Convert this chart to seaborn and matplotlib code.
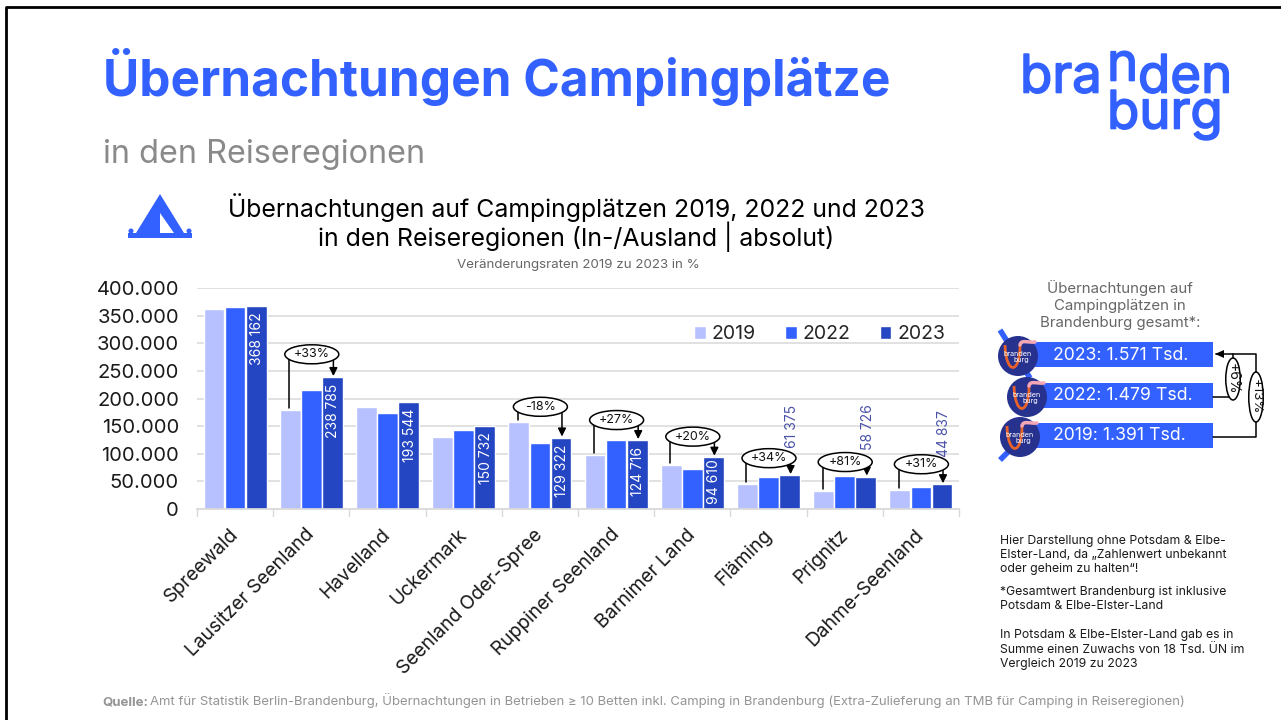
import matplotlib
matplotlib.use('Agg')
import matplotlib.pyplot as plt
import matplotlib.patheffects as pe
import matplotlib.transforms as mtrans
import pandas as pd
import seaborn as sns
from matplotlib.patches import Circle, Ellipse, PathPatch, Polygon, Rectangle
from matplotlib.path import Path

regionen = ['Spreewald', 'Lausitzer Seenland', 'Havelland', 'Uckermark', 'Seenland Oder-Spree',
            'Ruppiner Seenland', 'Barnimer Land', 'Fläming', 'Prignitz', 'Dahme-Seenland']
werte_2019 = [362000, 179000, 184000, 130500, 157500, 98000, 79000, 45800, 32500, 34200]
werte_2022 = [365000, 215500, 174500, 143000, 119000, 124500, 72000, 58500, 60000, 39500]
werte_2023 = [368162, 238785, 193544, 150732, 129322, 124716, 94610, 61375, 58726, 44837]
jahre = ['2019', '2022', '2023']
farben = ['#B8C1FF', '#3361FF', '#2546C2']
y_ticks = [0, 50000, 100000, 150000, 200000, 250000, 300000, 350000, 400000]

# Veraenderung 2019 zu 2023, je Region: (Index, Text, Hoehe der Ellipse im Diagramm)
raten = [(1, '+33%', 280000), (4, '-18%', 185000), (5, '+27%', 161000), (6, '+20%', 131000),
         (7, '+34%', 92000), (8, '+81%', 85000), (9, '+31%', 81000)]
gesamt = ['2023: 1.571 Tsd.', '2022: 1.479 Tsd.', '2019: 1.391 Tsd.']

BLAU = '#3361FF'
GRAU = '#8a8a8a'
FONT = ['Inter', 'DejaVu Sans']

sns.set_theme(style='white')
plt.rcParams['font.family'] = FONT

df = pd.DataFrame({'Region': regionen * 3,
                   'Jahr': ['2019'] * 10 + ['2022'] * 10 + ['2023'] * 10,
                   'Wert': werte_2019 + werte_2022 + werte_2023})

fig = plt.figure(figsize=(12.81, 7.2), dpi=100)
W, H = 1281, 720
ax = fig.add_axes([197 / W, 1 - 509 / H, (959 - 197) / W, 221 / H])
sns.barplot(data=df, x='Region', y='Wert', hue='Jahr', hue_order=jahre, palette=farben,
            order=regionen, width=0.83, gap=0.02, saturation=1, ax=ax)
ax.set_xlim(-0.5, 9.5)
ax.set_ylim(0, 400000)
ax.set_xlabel('')
ax.set_ylabel('')
ax.set_yticks(y_ticks)
ax.set_yticklabels([f'{v:,}'.replace(',', '.') for v in y_ticks], fontsize=14.5, color='#1a1a1a')
ax.tick_params(axis='y', length=0, pad=13)
ax.yaxis.grid(True, color='#dcdcdc', lw=1.2)
ax.set_axisbelow(True)
for s in ['top', 'right', 'left']:
    ax.spines[s].set_visible(False)
ax.spines['bottom'].set_color('#d9d9d9')
ax.set_xticks(range(10))
ax.set_xticklabels(regionen, rotation=45, ha='right', rotation_mode='anchor', fontsize=13.8, color='#1a1a1a')
ax.tick_params(axis='x', length=0, pad=12)
versatz = mtrans.ScaledTranslation(-6 / 100, 0, fig.dpi_scale_trans)
for lab in ax.get_xticklabels():
    lab.set_transform(lab.get_transform() + versatz)
for i in range(11):
    ax.plot([i - 0.5, i - 0.5], [0, -0.03], color='#d9d9d9', lw=1,
            transform=ax.get_xaxis_transform(), clip_on=False)

ax.legend(ncol=3, frameon=False, loc='upper right', bbox_to_anchor=(0.9945, 0.875), fontsize=14,
          handlelength=0.6, handleheight=0.6, handletextpad=0.3, columnspacing=1.5, borderpad=0)

# Overlay in Pixelkoordinaten fuer Titel, Logo, Kasten rechts
ov = fig.add_axes([0, 0, 1, 1], zorder=5)
ov.set_xlim(0, W)
ov.set_ylim(H, 0)
ov.axis('off')
ov.patch.set_alpha(0)


def to_px(x, y):
    px = ax.transData.transform((x, y))
    return px[0], H - px[1]


bars = {}
for j, jahr in enumerate(jahre):
    for i, p in enumerate(ax.containers[j].patches):
        bars[(j, i)] = p

# Werte an den 2023er Balken
for i, v in enumerate(werte_2023):
    p = bars[(2, i)]
    xc = p.get_x() + p.get_width() / 2
    x, y = to_px(xc, v)
    txt = f'{v:,}'.replace(',', ' ')
    if i < 7:
        abstand = 7 if v > 100000 else 2
        ov.text(x + 1, y + abstand, txt, rotation=90, ha='center', va='top', color='white', fontsize=10)
    else:
        ov.text(x + 2, y - 27, txt, rotation=90, ha='center', va='bottom', color='#4a52a8', fontsize=10)

# Pfeile mit Ellipsen
for i, label, hoehe in raten:
    p0, p2 = bars[(0, i)], bars[(2, i)]
    x0, y0 = to_px(p0.get_x() + p0.get_width() / 2, p0.get_height())
    x2, y2 = to_px(p2.get_x() + p2.get_width() / 2, p2.get_height())
    _, ye = to_px(i, hoehe)
    xe = (x0 + x2) / 2 + 0.5
    ov.plot([x0 - 1, x0 - 1], [ye, y0 - 2], color='black', lw=1.1)
    ov.annotate('', xy=(x2 + 1, y2 - 1), xytext=(x2 + 1, ye), annotation_clip=False,
                arrowprops=dict(arrowstyle='-|>', color='black', lw=1.1, shrinkA=0, shrinkB=0, mutation_scale=12))
    ov.add_patch(Ellipse((xe, ye), 54, 19, fc='white', ec='black', lw=1.1, zorder=4))
    ov.text(xe, ye, label, ha='center', va='center', fontsize=9, color='#111111', zorder=5)

# Rahmen
ov.plot([6, 6, 1281], [720, 7, 7], color='black', lw=2)

# Kopf
ov.text(103, 77, 'Übernachtungen Campingplätze', fontsize=35.7, fontweight='bold', color=BLAU, ha='left', va='center')
ov.text(103, 155, 'in den Reiseregionen', fontsize=23.3, color=GRAU, ha='left', va='center')
ov.text(576, 208, 'Übernachtungen auf Campingplätzen 2019, 2022 und 2023', fontsize=17.85, color='black', ha='center', va='center')
ov.text(576, 237, 'in den Reiseregionen (In-/Ausland | absolut)', fontsize=17.9, color='black', ha='center', va='center')
ov.text(578, 265, 'Veränderungsraten 2019 zu 2023 in %', fontsize=9.6, color='#666666', ha='center', va='center')

# Logo
dick = [pe.withStroke(linewidth=1.2, foreground=BLAU)]
for t, x, y in [('bra', 1020, 79), ('n', 1107, 67), ('den', 1138, 79), ('burg', 1107, 115)]:
    ov.text(x, y, t, fontsize=38, color=BLAU, ha='left', va='center', path_effects=dick)

# Zelt
ov.add_patch(Polygon([(160, 194), (184, 233), (136, 233)], fc=BLAU, ec='none'))
ov.add_patch(Rectangle((128, 233), 64, 5, fc=BLAU, ec='none'))
ov.add_patch(Circle((131, 231), 2.5, fc=BLAU, ec='none'))
ov.add_patch(Circle((189, 231), 2.5, fc=BLAU, ec='none'))
ov.add_patch(Polygon([(160, 213), (160, 233), (174, 233)], fc='white', ec='none'))

# Kasten rechts
for zeile, y in zip(['Übernachtungen auf', 'Campingplätzen in', 'Brandenburg gesamt*:'], [288, 306, 323]):
    ov.text(1120, y, zeile, fontsize=10.8, color='#666666', ha='center', va='center')
ov.plot([1000, 1030], [330, 378], color=BLAU, lw=4, solid_capstyle='butt')
ov.plot([1000, 1015], [460, 445], color=BLAU, lw=4, solid_capstyle='butt')
for txt, y0, xc in zip(gesamt, [342, 383, 423], [1018, 1027, 1020]):
    ov.add_patch(Rectangle((1027, y0), 186, 25, fc=BLAU, ec='none'))
    ov.text(1053, y0 + 13, txt, fontsize=12.7, color='white', ha='left', va='center')
    yc = y0 + 14
    ov.add_patch(Circle((xc, yc), 20, fc='#27328f', ec='none', zorder=3))
    u = Path([(xc - 13, yc - 11), (xc - 12, yc + 19), (xc + 2, yc + 19), (xc + 2, yc - 11)],
             [Path.MOVETO, Path.CURVE4, Path.CURVE4, Path.CURVE4])
    ov.add_patch(PathPatch(u, fc='none', ec='#E8622A', lw=2, zorder=3))
    rosa = Path([(xc + 2, yc - 11), (xc + 3, yc - 17), (xc + 10, yc - 13), (xc + 17, yc - 14)],
                [Path.MOVETO, Path.CURVE4, Path.CURVE4, Path.CURVE4])
    ov.add_patch(PathPatch(rosa, fc='none', ec='#F3A6B5', lw=2.5, capstyle='round', zorder=3))
    ov.text(xc, yc - 2, 'branden', fontsize=5.2, color='white', ha='center', va='center', zorder=4)
    ov.text(xc + 3, yc + 4, 'burg', fontsize=5.2, color='white', ha='center', va='center', zorder=4)

ov.plot([1213, 1256, 1256, 1216], [437, 437, 354, 354], color='black', lw=1.1)
ov.plot([1213, 1233, 1233], [397, 397, 354], color='black', lw=1.1)
ov.add_patch(Polygon([(1215, 354), (1224, 350), (1224, 358)], fc='black', ec='none'))
ov.add_patch(Ellipse((1233, 379), 14.5, 42, fc='white', ec='black', lw=1.1, zorder=4))
ov.add_patch(Ellipse((1256, 397), 14.5, 50, fc='white', ec='black', lw=1.1, zorder=4))
ov.text(1233, 379, '+6%', rotation=-90, fontsize=10, ha='center', va='center', color='#111111', zorder=5)
ov.text(1256, 397, '+13%', rotation=-90, fontsize=9.5, ha='center', va='center', color='#111111', zorder=5)

# Hinweise
notizen = [(1000, 541, 'Hier Darstellung ohne Potsdam & Elbe-'),
           (1000, 555, 'Elster-Land, da „Zahlenwert unbekannt'),
           (1000, 569, 'oder geheim zu halten“!'),
           (1000, 592, '*Gesamtwert Brandenburg ist inklusive'),
           (1000, 606, 'Potsdam & Elbe-Elster-Land'),
           (1000, 635, 'In Potsdam & Elbe-Elster-Land gab es in'),
           (1000, 650, 'Summe einen Zuwachs von 18 Tsd. ÜN im'),
           (1000, 664, 'Vergleich 2019 zu 2023')]
for x, y, t in notizen:
    ov.text(x, y, t, fontsize=8.8, color='#1a1a1a', ha='left', va='center')

ov.text(102, 705, 'Quelle:', fontsize=9.5, fontweight='bold', color='#949494', ha='left', va='baseline')
ov.text(150, 705, 'Amt für Statistik Berlin-Brandenburg, Übernachtungen in Betrieben ≥ 10 Betten inkl. Camping in Brandenburg (Extra-Zulieferung an TMB für Camping in Reiseregionen)',
        fontsize=9.46, color='#949494', ha='left', va='baseline')

fig.savefig('out.png', dpi=100, facecolor='white')
